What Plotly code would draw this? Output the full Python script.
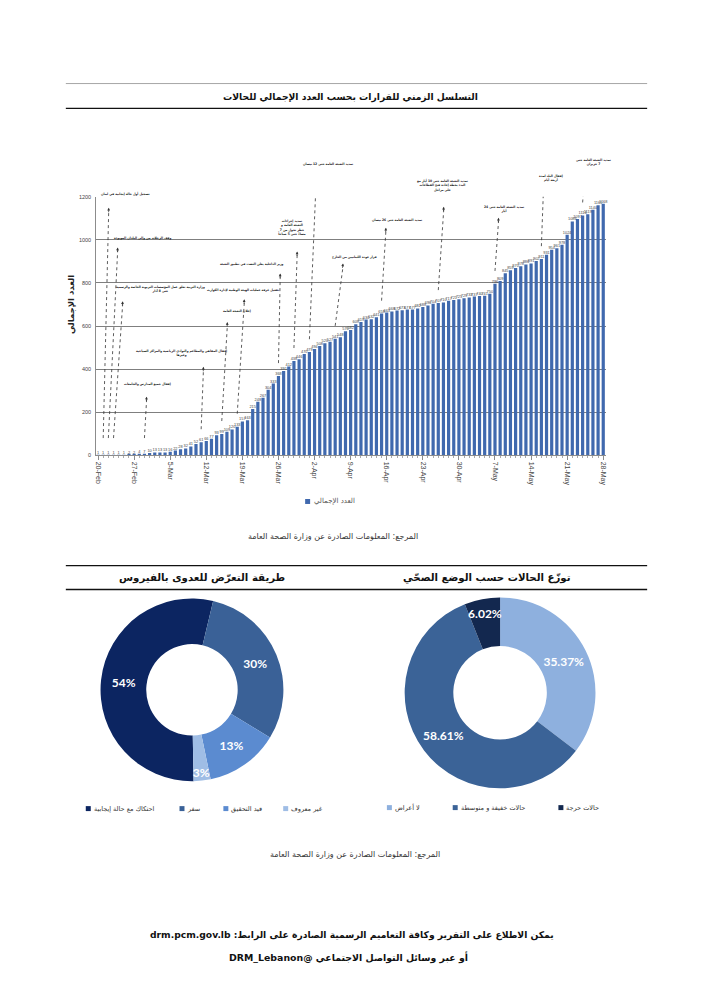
import math
import plotly.graph_objects as go
from datetime import datetime, timedelta

# ---------------- data ----------------
start_date = "2020-02-20"
total_cases = [
    1, 1, 1, 1, 1, 1, 2, 2, 4, 7,
    10, 13, 13, 13, 16, 22, 28, 32, 41, 52,
    61, 66, 77, 93, 99, 109, 120, 133, 157, 163,
    215, 248, 267, 304, 333, 368, 391, 412, 438, 446,
    470,
    479, 494, 508, 520, 527, 541, 548, 576, 582, 609,
    619, 630, 632, 641, 658, 663, 668, 672, 673, 677,
    677, 682, 688, 696, 704, 707, 710, 717, 721, 725,
    729, 733, 737, 740, 741, 750, 796, 809, 845, 859,
    870, 878, 886, 891, 902, 911, 931, 954, 961, 978,
    1024, 1086, 1097, 1114, 1119, 1140, 1161, 1168,
]
bar_series_name = "العدد الإجمالي"
y_ticks = [0, 200, 400, 600, 800, 1000, 1200]

decision_dates = [
    "2020-02-21", "2020-02-22", "2020-02-23", "2020-02-29", "2020-03-11",
    "2020-03-15", "2020-03-18", "2020-03-26", "2020-03-29", "2020-04-01",
    "2020-04-06", "2020-04-15", "2020-04-26", "2020-05-07", "2020-05-16",
    "2020-05-24",
]
decision_texts = [
    "تسجيل أول حالة إيجابية في لبنان",
    "وقف الرحلات من وإلى البلدان الموبوءة",
    "وزارة التربية تعلق عمل المؤسسات التربوية الخاصة والرسمية<br>حتى 8 آذار",
    "إقفال جميع المدارس والجامعات",
    "إقفال المقاهي والمطاعم والنوادي الرياضية والمراكز السياحية<br>وغيرها",
    "إعلان التعبئة العامة",
    "تفعيل غرفة عمليات الهيئة الوطنية لإدارة الكوارث",
    "وزير الداخلية يعلن التشدد في تطبيق التعبئة",
    "تمديد إجراءات<br>التعبئة العامة و<br>حظر تجول من 7<br>مساءً حتى 5 صباحاً",
    "تمديد التعبئة العامة حتى 12 نيسان",
    "قرار عودة اللبنانيين من الخارج",
    "تمديد التعبئة العامة حتى 26 نيسان",
    "تمديد التعبئة العامة حتى 10 أيار مع<br>البدء بخطة إعادة فتح القطاعات<br>على مراحل",
    "تمديد التعبئة العامة حتى 24<br>أيار",
    "إقفال البلد لمدة<br>أربعة أيام",
    "تمديد التعبئة العامة حتى<br>7 حزيران",
]

exposure_labels = ["احتكاك مع حالة إيجابية", "سفر", "قيد التحقيق", "غير معروف"]
exposure_values = [54, 30, 13, 3]
health_labels = ["لا أعراض", "حالات خفيفة و متوسطة", "حالات حرجة"]
health_values = [35.37, 58.61, 6.02]

title_main = "التسلسل الزمني للقرارات بحسب العدد الإجمالي للحالات"
title_health = "توزّع الحالات حسب الوضع الصحّي"
title_exposure = "طريقة التعرّض للعدوى بالفيروس"
source_text = "المرجع: المعلومات الصادرة عن وزارة الصحة العامة"
footer_1 = "يمكن الاطلاع على التقرير وكافة التعاميم الرسمية الصادرة على الرابط: drm.pcm.gov.lb"
footer_2 = "أو عبر وسائل التواصل الاجتماعي @DRM_Lebanon"

# ---------------- layout helpers ----------------
FIG_W, FIG_H, OFF = 690, 983, 8
AR = "DejaVu Sans"
AR_C = "DejaVu Sans Condensed, DejaVu Sans"


def PX(X):
    return (X - OFF) / FIG_W


def PY(Y):
    return 1 - (Y - OFF) / FIG_H


def rtl(s):
    return "<br>".join("\u202b" + part + "\u202c" for part in s.split("<br>"))


def note(text, X, Y, size, color="#222", family=AR, xanchor="center", angle=0):
    return dict(text=text, x=PX(X), y=PY(Y), xref="paper", yref="paper",
                xanchor=xanchor, yanchor="middle", showarrow=False, textangle=angle,
                font=dict(family=family, size=size, color=color))


d0 = datetime.strptime(start_date, "%Y-%m-%d")
dates = [d0 + timedelta(days=i) for i in range(len(total_cases))]
value_by_date = {d.strftime("%Y-%m-%d"): v for d, v in zip(dates, total_cases)}

X_LEFT, DAY = 95.5, 5.17
RANGE_DAYS = (-0.35, 98.45)
X0 = X_LEFT - RANGE_DAYS[0] * DAY
Y_ZERO, Y_TOP = 455, 195
VPX = (Y_ZERO - Y_TOP) / 1200.0


def xdate(X):
    return d0 + timedelta(days=(X - X0) / DAY)


def yval(Y):
    return (Y_ZERO - Y) / VPX


BAR_COLOR = "#4069ae"
EXPO_COLORS = ["#0c2561", "#3a6197", "#5b8bd0", "#9fbde5"]
HEALTH_COLORS = ["#8eb0de", "#3b6397", "#13284f"]

fig = go.Figure()

fig.add_trace(go.Bar(
    x=dates, y=total_cases, name=bar_series_name,
    marker=dict(color=BAR_COLOR, line=dict(width=0)),
    width=0.62 * 86400000, showlegend=False,
))
fig.add_trace(go.Scatter(
    x=dates, y=total_cases, mode="text", text=[str(v) for v in total_cases],
    textposition="top center", textfont=dict(size=3.9, color="#444", family="Liberation Sans"),
    showlegend=False, cliponaxis=False,
))

fig.add_trace(go.Pie(
    labels=exposure_labels, values=exposure_values, hole=0.5, sort=False,
    direction="clockwise", rotation=179,
    marker=dict(colors=EXPO_COLORS, line=dict(width=0)),
    texttemplate="%{value}%", textposition="inside", insidetextorientation="horizontal",
    textfont=dict(family="Lato", size=12, color="white", weight="bold"),
    domain=dict(x=[PX(99.5), PX(283.5)], y=[PY(783), PY(599)]),
    showlegend=False,
))
fig.add_trace(go.Pie(
    labels=health_labels, values=health_values, hole=0.49, sort=False,
    direction="clockwise", rotation=0,
    marker=dict(colors=HEALTH_COLORS, line=dict(width=0)),
    texttemplate="%{value}%", textposition="inside", insidetextorientation="horizontal",
    textfont=dict(family="Lato", size=12, color="white", weight="bold"),
    domain=dict(x=[PX(404.5), PX(596.5)], y=[PY(790), PY(598)]),
    showlegend=False,
))

shapes = []
annotations = []

# horizontal rules
for Y, col, w in [(81, "#a6a6a6", 1), (106, "#111", 1.4), (566, "#111", 1.4), (590, "#111", 1.4)]:
    shapes.append(dict(type="line", xref="paper", yref="paper", x0=PX(65), x1=PX(648),
                       y0=PY(Y), y1=PY(Y), line=dict(color=col, width=w)))

# titles
annotations.append(note("<b>" + rtl(title_main) + "</b>", 350, 95, 9.2, "#111"))
annotations.append(note("<b>" + rtl(title_exposure) + "</b>", 202, 578, 10.2, "#111"))
annotations.append(note("<b>" + rtl(title_health) + "</b>", 487, 578, 10.2, "#111"))

# y-axis title
annotations.append(note("<b>" + rtl(bar_series_name) + "</b>", 70, 303, 8.5, "#222", angle=-90))

# bar legend
shapes.append(dict(type="rect", xref="paper", yref="paper", x0=PX(305), x1=PX(310), y0=PY(504), y1=PY(499),
                   fillcolor=BAR_COLOR, line=dict(width=0)))
annotations.append(note(rtl(bar_series_name), 312, 501.5, 7, "#555", xanchor="left"))

# sources
annotations.append(note(rtl(source_text), 333, 537, 8, "#333"))
annotations.append(note(rtl(source_text), 355, 857, 8, "#333"))

# footer
annotations.append(note("<b>" + rtl(footer_1) + "</b>", 352, 938, 9.2, "#111"))
annotations.append(note("<b>" + rtl(footer_2) + "</b>", 348, 960, 9.4, "#111"))

# pie legends (manual)
expo_leg_x = [85, 179, 223, 283]
for X, lab, col in zip(expo_leg_x, exposure_labels, EXPO_COLORS):
    shapes.append(dict(type="rect", xref="paper", yref="paper", x0=PX(X), x1=PX(X + 5), y0=PY(813), y1=PY(808),
                       fillcolor=col, line=dict(width=0)))
    annotations.append(note(rtl(lab), X + 6, 810.5, 6.5, "#333", xanchor="left"))
health_leg_x = [387, 453, 559]
for X, lab, col in zip(health_leg_x, health_labels, HEALTH_COLORS):
    shapes.append(dict(type="rect", xref="paper", yref="paper", x0=PX(X), x1=PX(X + 5), y0=PY(812), y1=PY(807),
                       fillcolor=col, line=dict(width=0)))
    annotations.append(note(rtl(lab), X + 6, 809.5, 6.5, "#333", xanchor="left"))

# decision annotations: dotted leader line from the bar up to a small arrowhead under the text
text_pos = [(125, 192), (142, 236), (160, 288), (147, 383), (181, 352), (237, 310), (243, 289), (252, 263),
            (292, 226), (328, 162), (355, 256), (397, 218), (443, 183), (504, 207), (552, 176), (594, 160)]
head_pos = [(108, 206), (117, 246), (122, 300), (146, 396), (203, 366), (227, 321), (244, 298), (280, 272),
            (297, 250), (316, 177), (343, 262), (386, 226), (444, 205), (499, 216), (544, 185), (585, 175)]
for d, txt, (tx, ty), (hx, hy) in zip(decision_dates, decision_texts, text_pos, head_pos):
    v = value_by_date[d]
    tail_v = max(v, 20) + 60
    tail_d = datetime.strptime(d, "%Y-%m-%d")
    annotations.append(note("<b>" + rtl(txt) + "</b>", tx, ty, 3.3, "#222", family=AR_C))
    shapes.append(dict(type="line", xref="x", yref="y", x0=tail_d, y0=tail_v, x1=xdate(hx), y1=yval(hy + 3),
                       line=dict(color="#333", width=0.8, dash="dot")))
    # small solid arrowhead pointing along the leader line
    tpx = X0 + (tail_d - d0).days * DAY
    tpy = Y_ZERO - tail_v * VPX
    dx, dy = tpx - hx, tpy - hy
    n = math.hypot(dx, dy) or 1.0
    annotations.append(dict(text="", x=xdate(hx), y=yval(hy), xref="x", yref="y",
                            ax=dx / n * 6, ay=dy / n * 6,
                            showarrow=True, arrowhead=2, arrowsize=0.8, arrowwidth=0.7, arrowcolor="#333"))

fig.update_layout(
    width=FIG_W, height=FIG_H, margin=dict(l=0, r=0, t=0, b=0),
    paper_bgcolor="white", plot_bgcolor="white", showlegend=False,
    shapes=shapes, annotations=annotations,
    uniformtext=dict(minsize=12, mode="show"),
    xaxis=dict(
        type="date", domain=[PX(X_LEFT), PX(X_LEFT + (RANGE_DAYS[1] - RANGE_DAYS[0]) * DAY)],
        range=[d0 + timedelta(days=RANGE_DAYS[0]), d0 + timedelta(days=RANGE_DAYS[1])],
        tick0=start_date, dtick=7 * 86400000, tickformat="%-d-%b", tickangle=90,
        tickfont=dict(family="Liberation Sans", size=7, color="#444"),
        showgrid=False, showline=True, linecolor="#8c8c8c", linewidth=1,
        ticks="outside", ticklen=4, tickcolor="#8c8c8c",
        minor=dict(dtick=86400000, ticks="outside", ticklen=2, tickcolor="#aaa"),
        zeroline=False,
    ),
    yaxis=dict(
        domain=[PY(Y_ZERO), PY(Y_TOP)], range=[0, 1200], tickvals=y_ticks,
        tickfont=dict(family="Liberation Sans", size=5.5, color="#444"),
        showgrid=True, gridcolor="#7f7f7f", gridwidth=1,
        showline=True, linecolor="#8c8c8c", linewidth=1, zeroline=False,
        ticks="", ticklabelstandoff=3,
    ),
    bargap=0.4,
)

fig.write_html("out.html")
